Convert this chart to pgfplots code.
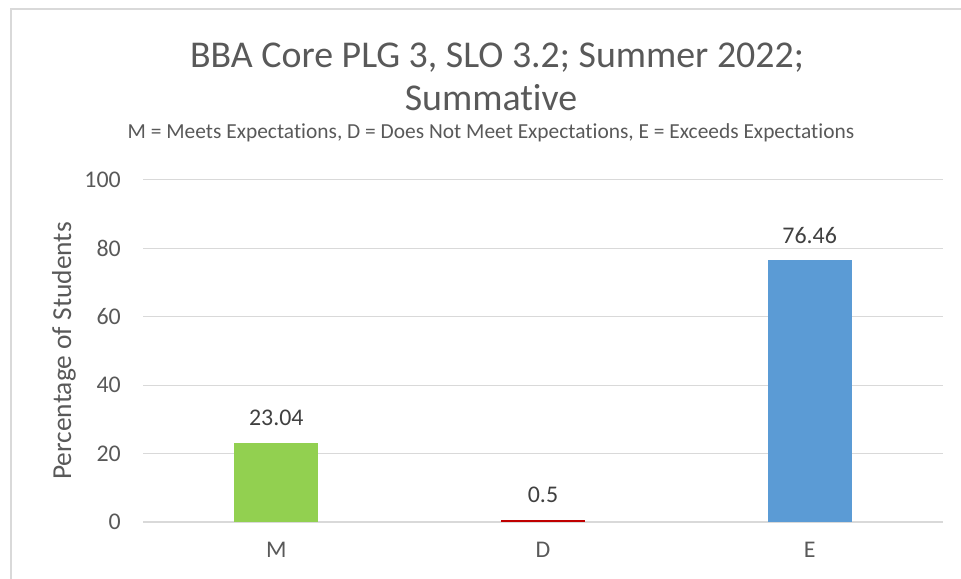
\documentclass[border=0pt]{standalone}
\usepackage{pgfplots}
\pgfplotsset{compat=1.18}
\usepackage{fontspec}
\setmainfont{Carlito}[Ligatures=NoCommon]
\definecolor{txt}{HTML}{595959}
\definecolor{lbl}{HTML}{404040}
\definecolor{gridc}{HTML}{D9D9D9}
\definecolor{cM}{HTML}{92D050}
\definecolor{cD}{HTML}{C00000}
\definecolor{cE}{HTML}{5B9BD5}
\begin{document}
\begin{tikzpicture}[x=1bp,y=1bp]
\useasboundingbox (0,0) rectangle (961,579);
\draw[color=gridc, line width=1.5bp] (11,570) rectangle (980,-20);
\node[font=\fontsize{38}{44}\selectfont, text=txt, anchor=base] at (497,511) {BBA Core PLG 3, SLO 3.2; Summer 2022;};
\node[font=\fontsize{38}{44}\selectfont, text=txt, anchor=base] at (491,468) {Summative};
\node[font=\fontsize{21.5}{25}\selectfont, text=txt, anchor=base] at (491,440) {M = Meets Expectations, D = Does Not Meet Expectations, E = Exceeds Expectations};
\node[font=\fontsize{27.5}{32}\selectfont, text=txt, rotate=90] at (64,228) {Percentage of Students};
\begin{axis}[
  at={(143bp,57bp)}, anchor=south west,
  scale only axis, width=800bp, height=342bp,
  xmin=-0.5, xmax=2.5, ymin=0, ymax=100,
  ytick={0,20,40,60,80,100},
  xtick={0,1,2}, xticklabels={M,D,E},
  /pgf/number format/assume math mode=true,
  /pgf/number format/precision=2,
  ymajorgrids, grid style={color=gridc, line width=1bp},
  axis x line*=bottom, axis y line*=left,
  y axis line style={draw=none},
  x axis line style={color=gridc, line width=1.5bp, -},
  major tick length=0pt,
  tick label style={font=\fontsize{24}{28}\selectfont, text=txt, inner sep=0pt},
  xticklabel style={anchor=north, yshift=-20bp},
  yticklabel style={anchor=east, xshift=-22bp},
  ybar, bar width=84bp, bar shift=0pt,
  nodes near coords,
  every node near coord/.append style={font=\fontsize{24}{28}\selectfont, text=lbl, anchor=south, inner sep=0pt, yshift=17bp},
]
\addplot[fill=cM, draw=none] coordinates {(0,23.04)};
\addplot[fill=cD, draw=none] coordinates {(1,0.5)};
\addplot[fill=cE, draw=none] coordinates {(2,76.46)};
\end{axis}
\end{tikzpicture}
\end{document}
